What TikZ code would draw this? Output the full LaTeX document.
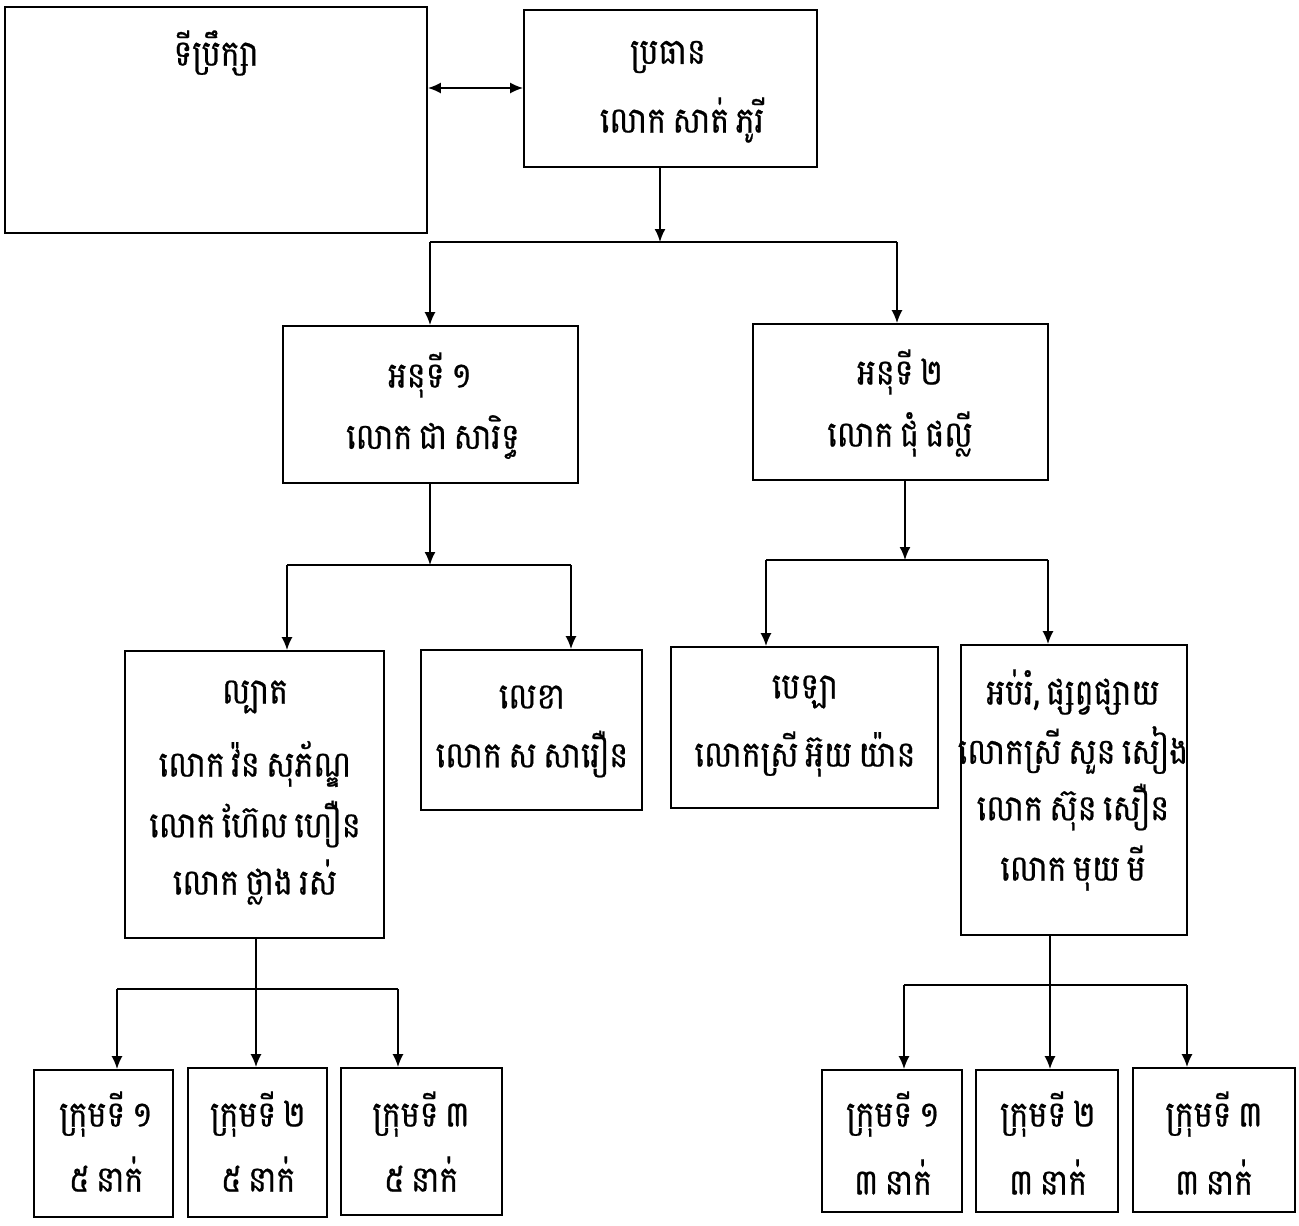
\documentclass[tikz,border=0pt]{standalone}
\usepackage{fontspec}
\newfontfamily\kh[Script=Khmer,WordSpace=0.6,FakeStretch=0.88,FakeBold=0.6]{Battambang}
\usetikzlibrary{arrows.meta,fit}
\begin{document}
\begin{tikzpicture}[x=0.02cm,y=-0.02cm,
  box/.style={draw, line width=1pt, inner sep=0pt},
  lbl/.style={font=\kh\fontsize{20.5}{25}\selectfont, inner sep=0pt},
  plain/.style={line width=1pt},
  arr/.style={line width=1pt, -{Latex[length=2.6mm,width=2.2mm]}},
  arrtwo/.style={line width=1pt, {Latex[length=2.6mm,width=2.2mm]}-{Latex[length=2.6mm,width=2.2mm]}}]
\useasboundingbox (0,0) rectangle (1299,1225);
% boxes
\node[box, fit={(5,7)(427,233)}] (adv) {};
\node[box, fit={(524,10)(817,167)}] (pres) {};
\node[box, fit={(283,326)(578,483)}] (d1) {};
\node[box, fit={(753,324)(1048,480)}] (d2) {};
\node[box, fit={(125,651)(384,938)}] (pat) {};
\node[box, fit={(421,650)(642,810)}] (sec) {};
\node[box, fit={(671,647)(938,808)}] (tre) {};
\node[box, fit={(961,645)(1187,935)}] (edu) {};
\node[box, fit={(34,1070)(173,1217)}] (la) {};
\node[box, fit={(188,1068)(327,1217)}] (lb) {};
\node[box, fit={(341,1068)(502,1215)}] (lc) {};
\node[box, fit={(822,1070)(962,1212)}] (ra) {};
\node[box, fit={(976,1070)(1118,1212)}] (rb) {};
\node[box, fit={(1133,1068)(1295,1212)}] (rc) {};
% texts
\node[lbl] (tadv) at (216,53) {ទីប្រឹក្សា};
\node[lbl] (tp1) at (668,57) {ប្រធាន};
\node[lbl] (tp2) at (682,120) {លោក សាត់ ភូរី};
\node[lbl] (td11) at (430,375) {អនុទី ១};
\node[lbl] (td12) at (433,437) {លោក ជា សារិទ្ធ};
\node[lbl] (td21) at (900,372) {អនុទី ២};
\node[lbl] (td22) at (900,434) {លោក ជុំ ផល្លី};
\node[lbl] (tpa1) at (255,697) {ល្បាត};
\node[lbl] (tpa2) at (255,764) {លោក វ៉ន សុភ័ណ្ឌ};
\node[lbl] (tpa3) at (255,824) {លោក ហ៊ែល ហឿន};
\node[lbl] (tpa4) at (255,882) {លោក ថ្លាង រស់};
\node[lbl] (tse1) at (532,697) {លេខា};
\node[lbl] (tse2) at (532,754) {លោក ស សារឿន};
\node[lbl] (ttr1) at (805,692) {បេឡា};
\node[lbl] (ttr2) at (805,754) {លោកស្រី អ៊ុយ យ៉ាន};
\node[lbl] (ted1) at (1073,692) {អប់រំ, ផ្សព្វផ្សាយ};
\node[lbl] (ted2) at (1073,750) {លោកស្រី សួន សៀង};
\node[lbl] (ted3) at (1073,807) {លោក ស៊ុន សឿន};
\node[lbl] (ted4) at (1073,868) {លោក មុយ មី};
\node[lbl] (tla1) at (106,1114) {ក្រុមទី ១};
\node[lbl] (tla2) at (106,1174) {៥ នាក់};
\node[lbl] (tlb1) at (258,1114) {ក្រុមទី ២};
\node[lbl] (tlb2) at (258,1174) {៥ នាក់};
\node[lbl] (tlc1) at (421,1114) {ក្រុមទី ៣};
\node[lbl] (tlc2) at (421,1174) {៥ នាក់};
\node[lbl] (tra1) at (893,1114) {ក្រុមទី ១};
\node[lbl] (tra2) at (893,1177) {៣ នាក់};
\node[lbl] (trb1) at (1048,1114) {ក្រុមទី ២};
\node[lbl] (trb2) at (1048,1177) {៣ នាក់};
\node[lbl] (trc1) at (1214,1114) {ក្រុមទី ៣};
\node[lbl] (trc2) at (1214,1177) {៣ នាក់};
% junction coordinates
\coordinate (j0) at (0,88);
\coordinate (j1) at (660,242);
\coordinate (j1l) at (430,242);
\coordinate (j1r) at (897,242);
\coordinate (j2) at (430,565);
\coordinate (j2l) at (287,565);
\coordinate (j2r) at (571,565);
\coordinate (j3) at (905,560);
\coordinate (j3l) at (766,560);
\coordinate (j3r) at (1048,560);
\coordinate (j4) at (256,989);
\coordinate (j4l) at (117,989);
\coordinate (j4r) at (398,989);
\coordinate (j5) at (1050,985);
\coordinate (j5l) at (904,985);
\coordinate (j5r) at (1187,985);
% connectors
\draw[arrtwo] (adv.east |- j0) -- (pres.west |- j0);
\draw[arr] (pres.south -| j1) -- (j1);
\draw[plain] (j1l) -- (j1r);
\draw[arr] (j1l) -- (d1.north -| j1l);
\draw[arr] (j1r) -- (d2.north -| j1r);
\draw[arr] (d1.south -| j2) -- (j2);
\draw[plain] (j2l) -- (j2r);
\draw[arr] (j2l) -- (pat.north -| j2l);
\draw[arr] (j2r) -- (sec.north -| j2r);
\draw[arr] (d2.south -| j3) -- (j3);
\draw[plain] (j3l) -- (j3r);
\draw[arr] (j3l) -- (tre.north -| j3l);
\draw[arr] (j3r) -- (edu.north -| j3r);
\draw[arr] (pat.south -| j4) -- (lb.north -| j4);
\draw[plain] (j4l) -- (j4r);
\draw[arr] (j4l) -- (la.north -| j4l);
\draw[arr] (j4r) -- (lc.north -| j4r);
\draw[arr] (edu.south -| j5) -- (rb.north -| j5);
\draw[plain] (j5l) -- (j5r);
\draw[arr] (j5l) -- (ra.north -| j5l);
\draw[arr] (j5r) -- (rc.north -| j5r);
\end{tikzpicture}
\end{document}
